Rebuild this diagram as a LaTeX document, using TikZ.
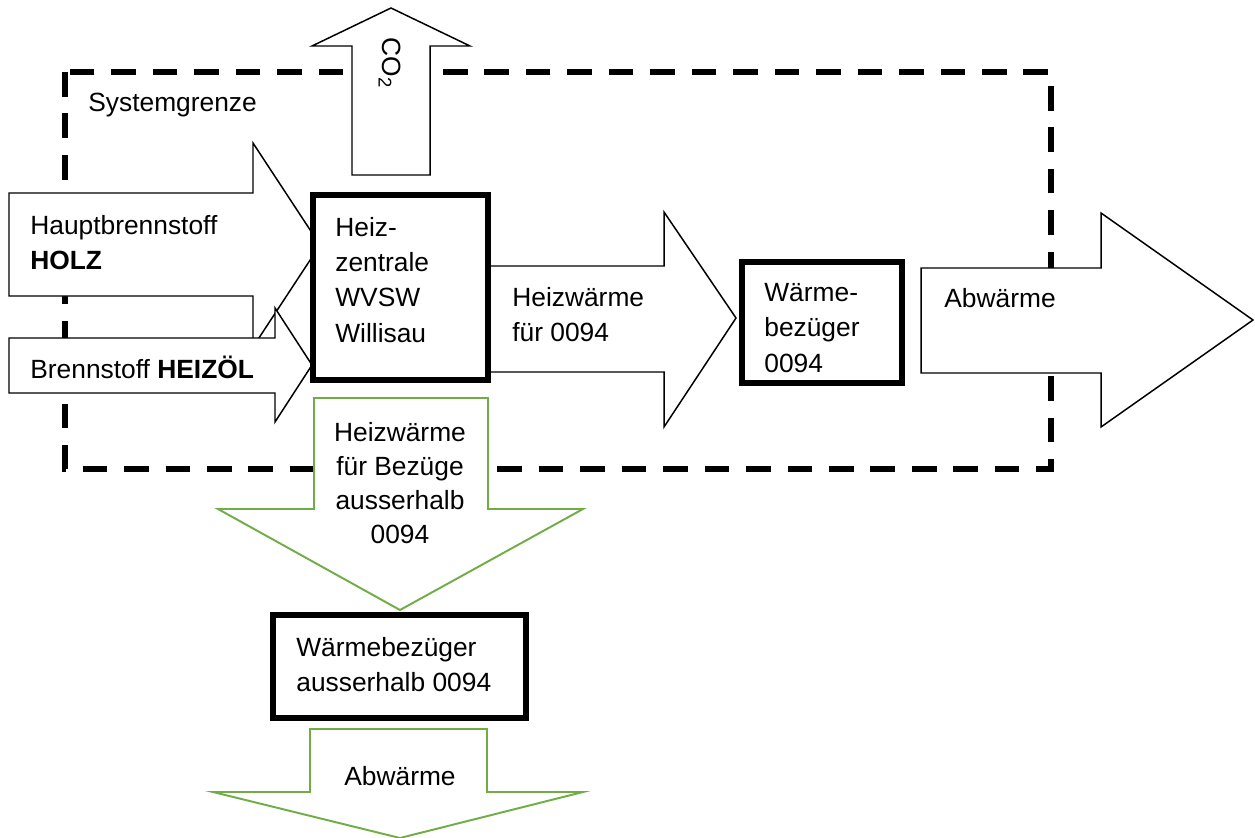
\documentclass[tikz,border=0pt]{standalone}
\usepackage{fontspec}
\setmainfont{Liberation Sans}
\usepackage{xcolor}
\usepackage{tikz}

\definecolor{flowgreen}{RGB}{112,173,71}

\tikzset{
  flowarrow/.style={draw=black,fill=white,line width=0.85pt,line join=miter},
  greenarrow/.style={draw=flowgreen,fill=white,line width=1.1pt,line join=miter},
  unitbox/.style={draw=black,fill=white,line width=3.4pt,inner sep=0pt},
  lbl/.style={inner sep=0pt,anchor=west,align=left,font=\fontsize{15pt}{20pt}\selectfont},
  clbl/.style={inner sep=0pt,align=center,font=\fontsize{15pt}{19.5pt}\selectfont}
}

\begin{document}
\begin{tikzpicture}[x=0.02cm,y=-0.02cm]
\useasboundingbox (0,0) rectangle (1255,838);

% Systemgrenze
\draw[line width=3.4pt,dash pattern=on 14pt off 9.6pt] (65,72) rectangle (1051,469);
\node[lbl] (grenze) at (88,105) {Systemgrenze};

% CO2 nach oben
\draw[flowarrow] (352,175) -- (352,46) -- (312,46) -- (391,8) -- (470,46) -- (430,46) -- (430,175) -- cycle;
\node[clbl,rotate=-90] (co2) at (390,63) {CO\textsubscript{2}};

% Brennstoffe
\draw[flowarrow] (9,193) -- (253,193) -- (253,143) -- (320,245) -- (253,347) -- (253,296) -- (9,296) -- cycle;
\node[lbl] (holz) at (30,243) {Hauptbrennstoff\\\textbf{HOLZ}};

\draw[flowarrow] (9,338) -- (275,338) -- (275,308) -- (312,365) -- (275,422) -- (275,393) -- (9,393) -- cycle;
\node[lbl] (oel) at (30,367) {Brennstoff \textbf{HEIZÖL}};

% Heizwaerme fuer 0094
\draw[flowarrow] (488,266) -- (664,266) -- (664,212) -- (736,318) -- (664,427) -- (664,372) -- (488,372) -- cycle;
\node[lbl] (hw) at (512,315) {Heizwärme\\für 0094};

% Abwaerme rechts
\draw[flowarrow] (921,268) -- (1101,268) -- (1101,213) -- (1253,320) -- (1101,427) -- (1101,373) -- (921,373) -- cycle;
\node[lbl] (abw) at (944,298) {Abwärme};

% Heizwaerme ausserhalb
\draw[greenarrow] (314,398) -- (488,398) -- (488,509) -- (583,509) -- (400,610) -- (218,509) -- (314,509) -- cycle;
\node[clbl] (hwa) at (400,483) {Heizwärme\\für Bezüge\\ausserhalb\\0094};

\draw[greenarrow] (310,729) -- (487,729) -- (487,792) -- (583,792) -- (400,838) -- (213,792) -- (310,792) -- cycle;
\node[clbl] (abwa) at (400,776) {Abwärme};

% Boxen
\node[unitbox,minimum width=3.5cm,minimum height=3.7cm] (hz) at (400.5,287.5) {};
\node[lbl] (hztext) at (335,280) {Heiz-\\zentrale\\WVSW\\Willisau};

\node[unitbox,minimum width=3.2cm,minimum height=2.42cm] (wb) at (822,322.5) {};
\node[lbl] (wbtext) at (764,328) {Wärme-\\bezüger\\0094};

\node[unitbox,minimum width=5.06cm,minimum height=2.06cm] (wba) at (399.5,666.5) {};
\node[lbl] (wbatext) at (296,665) {Wärmebezüger\\ausserhalb 0094};
\end{tikzpicture}
\end{document}
